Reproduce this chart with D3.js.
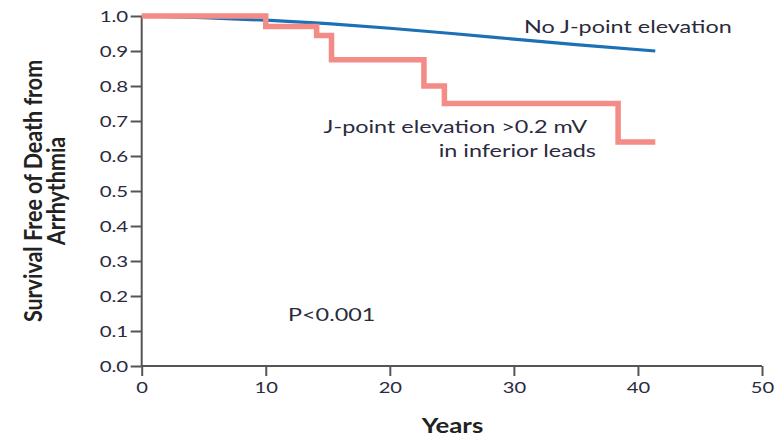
<!DOCTYPE html>
<html>
<head>
<meta charset="utf-8">
<script src="https://cdn.jsdelivr.net/npm/d3@7"></script>
<style>
  body { margin: 0; background: #fff; }
  svg { display: block; font-family: Lato, "Open Sans", sans-serif; }
</style>
</head>
<body>
<svg id="chart"></svg>
<script>
// data
const noElevYears = [0, 5, 10, 15, 20, 25, 30, 35, 41.4];
const noElevSurv = [1.0, 0.995, 0.988, 0.978, 0.965, 0.95, 0.934, 0.918, 0.9];
const jPointYears = [0, 10, 14.1, 15.3, 22.75, 24.4, 38.4, 41.4];
const jPointSurv = [1.0, 0.97, 0.944, 0.875, 0.8, 0.75, 0.64, 0.64];
const xTicks = [0, 10, 20, 30, 40, 50];
const yTicks = [0, 0.1, 0.2, 0.3, 0.4, 0.5, 0.6, 0.7, 0.8, 0.9, 1.0];

const width = 779, height = 438;
const textColor = "#2b2b3d";
const axisColor = "#555";
//the source picture is stretched sideways, so text gets a horizontal scale
const stretch = 1.3;

const svg = d3.select("#chart").attr("width", width).attr("height", height);

const x = d3.scaleLinear().domain([0, 50]).range([141.7, 762]);
const y = d3.scaleLinear().domain([0, 1]).range([366, 16]);

//axes
const xAxis = svg.append("g")
  .attr("transform", `translate(0,${y(0)})`)
  .call(d3.axisBottom(x).tickValues(xTicks).tickSize(10).tickFormat(d3.format("d")));
const yAxis = svg.append("g")
  .attr("transform", `translate(${x(0)},0)`)
  .call(d3.axisLeft(y).tickValues(yTicks).tickSize(11).tickFormat(d3.format(".1f")));

for (const ax of [xAxis, yAxis]) {
  ax.select(".domain").attr("stroke", axisColor).attr("stroke-width", 2);
  ax.selectAll(".tick line").attr("stroke", axisColor).attr("stroke-width", 2);
  ax.selectAll(".tick text")
    .attr("fill", textColor)
    .style("font-family", "Lato, sans-serif")
    .style("font-size", "16px");
}
xAxis.selectAll(".tick text")
  .attr("y", null)
  .attr("transform", `translate(0,16) scale(1.26,1)`);
yAxis.selectAll(".tick text")
  .attr("x", null)
  .attr("transform", `translate(-13.5,0) scale(1.28,1)`);
// d3 adds outer ticks on the domain path; draw it plain
xAxis.select(".domain").attr("d", `M${x(0)},0H${x(50)}`);
yAxis.select(".domain").attr("d", `M0,${y(0)}V${y(1)}`);

//survival curves
const line = d3.line()
  .x(d => x(d[0]))
  .y(d => y(d[1]));

svg.append("path")
  .datum(d3.zip(noElevYears, noElevSurv))
  .attr("fill", "none")
  .attr("stroke", "#1c70b6")
  .attr("stroke-width", 3.2)
  .attr("d", line.curve(d3.curveMonotoneX));

svg.append("path")
  .datum(d3.zip(jPointYears, jPointSurv))
  .attr("fill", "none")
  .attr("stroke", "#f38b86")
  .attr("stroke-width", 5.5)
  .attr("d", line.curve(d3.curveStepAfter));

//labels
function label(px, py, str, size, opts = {}) {
  return svg.append("text")
    .attr("transform", `translate(${px},${py}) scale(${opts.sx || stretch},1)`)
    .attr("text-anchor", opts.anchor || "start")
    .attr("fill", opts.color || textColor)
    .style("font-size", size + "px")
    .style("font-weight", opts.weight || "normal")
    .text(str);
}

label(524, 33, "No J-point elevation", 18);
label(587, 133, "J-point elevation >0.2 mV", 18, { anchor: "end" });
label(596, 157, "in inferior leads", 18, { anchor: "end" });
label(288, 321, "P<0.001", 18);
label(452.5, 433, "Years", 21.5, { anchor: "middle", weight: "bold", color: "#222", sx: 1.2 });

//y title, rotated; stretch goes along screen x (the glyph height)
const titleStretch = 1.17;
const yTitle = svg.append("text")
  .attr("transform", `translate(0,191) scale(${titleStretch},1) rotate(-90)`)
  .attr("text-anchor", "middle")
  .attr("fill", "#222")
  .style("font-size", "21.5px")
  .style("font-weight", "bold");
yTitle.append("tspan").attr("x", 0).attr("y", 41.7 / titleStretch).text("Survival Free of Death from");
yTitle.append("tspan").attr("x", 0).attr("y", 65 / titleStretch).text("Arrhythmia");
</script>
</body>
</html>
